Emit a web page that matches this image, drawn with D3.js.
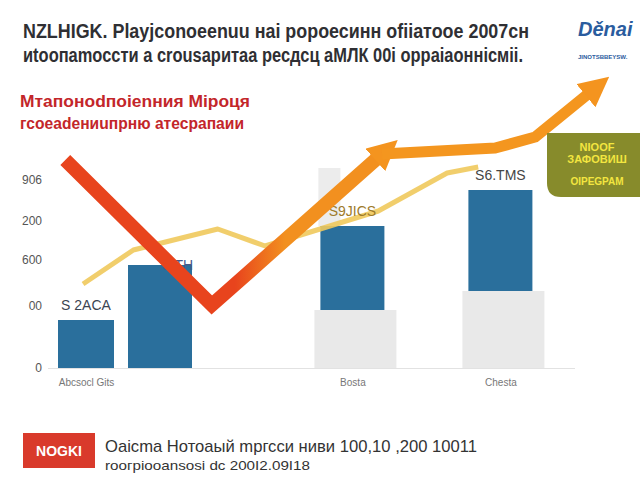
<!DOCTYPE html>
<meta charset="utf-8">
<style>
    body { margin: 0; background: #fff; }
    svg { font-family: "Liberation Sans", Arial, sans-serif; }
    .title { font-weight: bold; fill: #2f2f33; }
    .sub { font-weight: bold; fill: #c3262a; }
    .axis text { fill: #555; font-size: 12px; }
    .xaxis text { fill: #777; font-size: 10px; }
</style>
<svg width="640" height="480"></svg>
<script src="https://d3js.org/d3.v7.min.js"></script>
<script>

    // categories and values
    var categories = ["Abcsocl Gits", "", "Bosta", "Chesta"];
    var periods = [1, 2, 4.6, 6.6];
    var baseValues = [0, 0, 290, 385];
    var mainValues = [240, 515, 420, 505];
    var barLabels = ["S 2ACA", "8 TH", "S9JICS", "S6.TMS"];

    var yTickValues = [0, 310, 540, 735, 940];
    var yTickLabels = ["0", "00", "600", "200", "906"];

    // yellow trend line
    var trendT = [0.96, 1.64, 2.78, 3.42, 4.95, 5.88, 6.3];
    var trendV = [420, 590, 695, 610, 785, 975, 1005];

    // big arrow
    var arrowT = [0.72, 2.70, 5.0, 6.53, 7.07, 7.85];
    var arrowV = [1040, 315, 1070, 1100, 1155, 1390];

    var svg = d3.select("svg");

    var x = d3.scaleLinear().domain([0, 8]).range([12, 604]);
    var y = d3.scaleLinear().domain([0, 1500]).range([368, 68]);

    var defs = svg.append("defs");
    var grad = defs.append("linearGradient")
        .attr("id", "arrowGrad")
        .attr("gradientUnits", "userSpaceOnUse")
        .attr("x1", 235).attr("x2", 285).attr("y1", 0).attr("y2", 0);
    grad.append("stop").attr("offset", 0).attr("stop-color", "#e8441d");
    grad.append("stop").attr("offset", 1).attr("stop-color", "#f2901f");

    defs.append("marker")
        .attr("id", "head")
        .attr("viewBox", "0 0 10 10")
        .attr("refX", 3).attr("refY", 5)
        .attr("markerUnits", "userSpaceOnUse")
        .attr("markerWidth", 30).attr("markerHeight", 30)
        .attr("orient", "auto")
        .append("path")
        .attr("d", "M0,0 L10,5 L0,10 z")
        .attr("fill", "#f4941f");

    // titles
    var title = ["NZLHIGK. Рlауjсоnоееnuu наi роpоесинн оfiiaтоое 2007сн",
        "иtоопаmоссти а сrоusaритаа ресдсц аМЛК 00і орраіаоннісміі."];
    svg.selectAll(".title").data(title).enter().append("text")
        .attr("class", "title")
        .attr("x", 23).attr("y", function(d, i) { return 38 + i * 24; })
        .attr("font-size", 20)
        .attr("textLength", function(d, i) { return i ? 500 : 506; })
        .attr("lengthAdjust", "spacingAndGlyphs")
        .text(function(d) { return d; });

    // logo, cut by the right edge as in the picture
    svg.append("text")
        .attr("x", 578).attr("y", 36)
        .attr("font-size", 20).attr("font-weight", "bold").attr("font-style", "italic")
        .attr("fill", "#2a5c9e")
        .text("Děnai");
    svg.append("text")
        .attr("x", 578).attr("y", 59)
        .attr("font-size", 6).attr("font-weight", "bold")
        .attr("fill", "#2a5c9e")
        .text("JINOTSBBEYSW.");

    var sub = ["Мтапоноdпоienния Мiроця", "гсоеаdениuпрню атесрапаии"];
    svg.selectAll(".sub").data(sub).enter().append("text")
        .attr("class", "sub")
        .attr("x", 20).attr("y", function(d, i) { return 107 + i * 22; })
        .attr("font-size", 17)
        .attr("textLength", function(d, i) { return i ? 224 : 230; })
        .attr("lengthAdjust", "spacingAndGlyphs")
        .text(function(d) { return d; });

    // axes
    var yAxis = svg.append("g")
        .attr("class", "axis")
        .attr("transform", "translate(42,0)")
        .call(d3.axisLeft(y).tickValues(yTickValues).tickSize(0).tickPadding(0)
            .tickFormat(function(d, i) { return yTickLabels[i]; }));
    yAxis.select(".domain").remove();

    svg.append("line")
        .attr("x1", 48).attr("x2", 575)
        .attr("y1", y(0) + 0.5).attr("y2", y(0) + 0.5)
        .attr("stroke", "#e2e2e2");

    var xAxis = svg.append("g")
        .attr("class", "xaxis")
        .attr("transform", "translate(0," + (y(0) + 3) + ")")
        .call(d3.axisBottom(x).tickValues(periods).tickSize(0).tickPadding(8)
            .tickFormat(function(d, i) { return categories[i]; }));
    xAxis.select(".domain").remove();

    var bars = periods.map(function(p, i) {
        return {p: p, base: baseValues[i], top: baseValues[i] + mainValues[i], label: barLabels[i]};
    });

    // faint column behind third bar
    svg.append("rect")
        .attr("x", x(periods[2]) - 34).attr("width", 22)
        .attr("y", y(1000)).attr("height", y(bars[2].top) - y(1000))
        .attr("fill", "#ececec");

    svg.selectAll(".base").data(bars.filter(function(d) { return d.base > 0; }))
        .enter().append("rect")
        .attr("x", function(d) { return x(d.p) - 38; })
        .attr("width", 82)
        .attr("y", function(d) { return y(d.base); })
        .attr("height", function(d) { return y(0) - y(d.base); })
        .attr("fill", "#e9e9e9");

    svg.selectAll(".bar").data(bars).enter().append("rect")
        .attr("x", function(d, i) { return x(d.p) - (i ? 32 : 28); })
        .attr("width", function(d, i) { return i ? 64 : 56; })
        .attr("y", function(d) { return y(d.top); })
        .attr("height", function(d) { return y(d.base) - y(d.top); })
        .attr("fill", "#2a6f9c");

    // yellow line
    var line = d3.line()
        .x(function(d) { return x(d[0]); })
        .y(function(d) { return y(d[1]); });

    svg.append("path")
        .datum(d3.zip(trendT, trendV))
        .attr("d", line)
        .attr("fill", "none")
        .attr("stroke", "#f0c95c")
        .attr("stroke-width", 5)
        .attr("stroke-linejoin", "round")
        .attr("opacity", 0.9);

    var labelColors = ["#3b4552", "#47598a", "#9d7a2a", "#454545"];
    svg.selectAll(".blabel").data(bars).enter().append("text")
        .attr("x", function(d, i) { return x(d.p) + (i == 1 ? 18 : 0); })
        .attr("y", function(d, i) { return y(d.top) - (i == 1 ? -5 : 10); })
        .attr("text-anchor", "middle")
        .attr("font-size", 14)
        .attr("fill", function(d, i) { return labelColors[i]; })
        .text(function(d) { return d.label; });

    // the arrow, in two strokes
    var pts = d3.zip(arrowT, arrowV);
    svg.append("path")
        .datum(pts.slice(0, 3))
        .attr("d", line)
        .attr("fill", "none")
        .attr("stroke", "url(#arrowGrad)")
        .attr("stroke-width", 14)
        .attr("stroke-linejoin", "miter")
        .attr("marker-end", "url(#head)");
    svg.append("path")
        .datum(pts.slice(2))
        .attr("d", line)
        .attr("fill", "none")
        .attr("stroke", "#f4961f")
        .attr("stroke-width", 11)
        .attr("stroke-linejoin", "round")
        .attr("marker-end", "url(#head)");

    // olive note box
    svg.append("path")
        .attr("d", "M547,133 H640 V197 H561 Q547,197 547,183 Z")
        .attr("fill", "#878b2b");
    var note = ["NIOOF", "ЗАФОВИШ", "OIPEGPAM"];
    svg.selectAll(".note").data(note).enter().append("text")
        .attr("x", 597).attr("y", function(d, i) { return [151, 163, 185][i]; })
        .attr("text-anchor", "middle")
        .attr("font-size", function(d, i) { return i == 2 ? 10 : 11; })
        .attr("font-weight", "bold")
        .attr("fill", "#f3e640")
        .text(function(d) { return d; });

    // footer
    svg.append("rect")
        .attr("x", 23).attr("y", 433).attr("width", 72).attr("height", 35)
        .attr("fill", "#d93a2b");
    svg.append("text")
        .attr("x", 59).attr("y", 456)
        .attr("text-anchor", "middle")
        .attr("font-size", 14).attr("font-weight", "bold")
        .attr("fill", "#fff")
        .text("NOGKI");
    svg.append("text")
        .attr("x", 105).attr("y", 452)
        .attr("font-size", 17).attr("fill", "#333")
        .attr("textLength", 372).attr("lengthAdjust", "spacingAndGlyphs")
        .text("Оаісmа Нотоаый mргсси ниви 100,10 ,200 10011");
    svg.append("text")
        .attr("x", 105).attr("y", 470)
        .attr("font-size", 13).attr("fill", "#333")
        .attr("textLength", 205).attr("lengthAdjust", "spacingAndGlyphs")
        .text("rоогрioоаnsоsі dс 200І2.09І18");

</script>
